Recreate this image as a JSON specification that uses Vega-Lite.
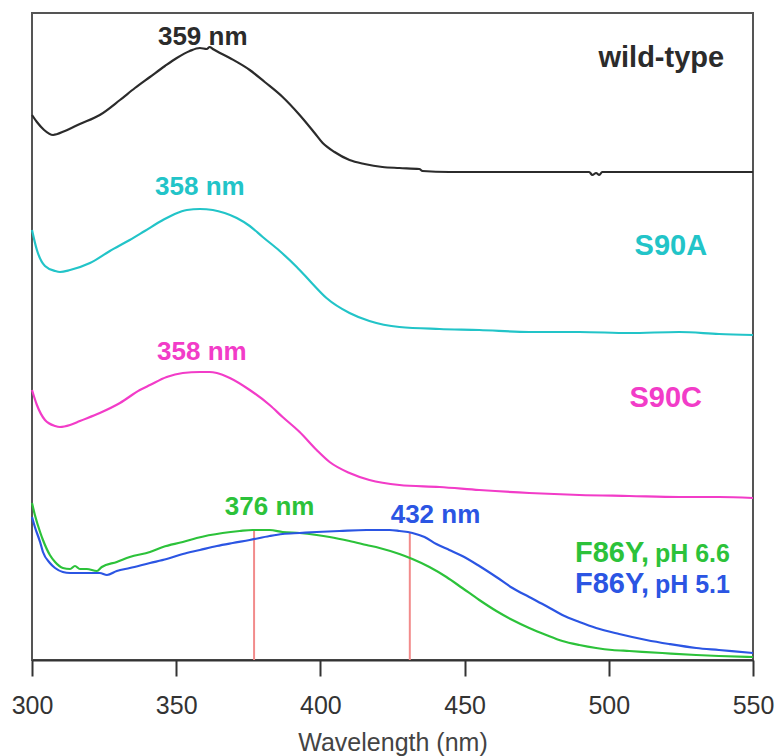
{
  "$schema": "https://vega.github.io/schema/vega-lite/v6.json",
  "width": 721,
  "height": 647,
  "autosize": {"type": "none"},
  "padding": {"left": 32, "top": 13, "right": 25, "bottom": 96},
  "background": "white",
  "config": {
    "view": {"stroke": "#555555", "strokeWidth": 2},
    "text": {"font": "Liberation Sans", "fontWeight": "bold"}
  },
  "datasets": {
    "spectra": [
      {"series": "wild-type", "wavelength": 300.0, "absorbance": 0.545},
      {"series": "wild-type", "wavelength": 301.7, "absorbance": 0.538},
      {"series": "wild-type", "wavelength": 304.2, "absorbance": 0.530},
      {"series": "wild-type", "wavelength": 307.3, "absorbance": 0.525},
      {"series": "wild-type", "wavelength": 311.4, "absorbance": 0.529},
      {"series": "wild-type", "wavelength": 316.6, "absorbance": 0.536},
      {"series": "wild-type", "wavelength": 323.5, "absorbance": 0.545},
      {"series": "wild-type", "wavelength": 330.5, "absorbance": 0.560},
      {"series": "wild-type", "wavelength": 335.7, "absorbance": 0.572},
      {"series": "wild-type", "wavelength": 340.9, "absorbance": 0.583},
      {"series": "wild-type", "wavelength": 346.1, "absorbance": 0.594},
      {"series": "wild-type", "wavelength": 350.2, "absorbance": 0.602},
      {"series": "wild-type", "wavelength": 354.7, "absorbance": 0.609},
      {"series": "wild-type", "wavelength": 358.2, "absorbance": 0.612},
      {"series": "wild-type", "wavelength": 360.6, "absorbance": 0.611},
      {"series": "wild-type", "wavelength": 361.6, "absorbance": 0.613},
      {"series": "wild-type", "wavelength": 362.7, "absorbance": 0.611},
      {"series": "wild-type", "wavelength": 368.6, "absorbance": 0.602},
      {"series": "wild-type", "wavelength": 375.5, "absorbance": 0.590},
      {"series": "wild-type", "wavelength": 380.7, "absorbance": 0.578},
      {"series": "wild-type", "wavelength": 386.9, "absorbance": 0.563},
      {"series": "wild-type", "wavelength": 392.8, "absorbance": 0.545},
      {"series": "wild-type", "wavelength": 398.0, "absorbance": 0.527},
      {"series": "wild-type", "wavelength": 400.8, "absorbance": 0.517},
      {"series": "wild-type", "wavelength": 404.9, "absorbance": 0.508},
      {"series": "wild-type", "wavelength": 410.1, "absorbance": 0.500},
      {"series": "wild-type", "wavelength": 415.3, "absorbance": 0.496},
      {"series": "wild-type", "wavelength": 421.5, "absorbance": 0.493},
      {"series": "wild-type", "wavelength": 427.4, "absorbance": 0.492},
      {"series": "wild-type", "wavelength": 434.3, "absorbance": 0.491},
      {"series": "wild-type", "wavelength": 435.4, "absorbance": 0.489},
      {"series": "wild-type", "wavelength": 444.7, "absorbance": 0.488},
      {"series": "wild-type", "wavelength": 462.0, "absorbance": 0.488},
      {"series": "wild-type", "wavelength": 493.2, "absorbance": 0.488},
      {"series": "wild-type", "wavelength": 494.3, "absorbance": 0.485},
      {"series": "wild-type", "wavelength": 495.6, "absorbance": 0.487},
      {"series": "wild-type", "wavelength": 496.7, "absorbance": 0.485},
      {"series": "wild-type", "wavelength": 497.7, "absorbance": 0.488},
      {"series": "wild-type", "wavelength": 514.0, "absorbance": 0.488},
      {"series": "wild-type", "wavelength": 531.3, "absorbance": 0.488},
      {"series": "wild-type", "wavelength": 550.0, "absorbance": 0.488},

      {"series": "S90A", "wavelength": 300.0, "absorbance": 0.430},
      {"series": "S90A", "wavelength": 301.7, "absorbance": 0.410},
      {"series": "S90A", "wavelength": 304.5, "absorbance": 0.394},
      {"series": "S90A", "wavelength": 308.0, "absorbance": 0.389},
      {"series": "S90A", "wavelength": 309.7, "absorbance": 0.388},
      {"series": "S90A", "wavelength": 313.2, "absorbance": 0.390},
      {"series": "S90A", "wavelength": 320.1, "absorbance": 0.397},
      {"series": "S90A", "wavelength": 327.0, "absorbance": 0.409},
      {"series": "S90A", "wavelength": 333.9, "absorbance": 0.420},
      {"series": "S90A", "wavelength": 339.1, "absorbance": 0.429},
      {"series": "S90A", "wavelength": 345.4, "absorbance": 0.440},
      {"series": "S90A", "wavelength": 349.5, "absorbance": 0.446},
      {"series": "S90A", "wavelength": 353.7, "absorbance": 0.450},
      {"series": "S90A", "wavelength": 358.2, "absorbance": 0.451},
      {"series": "S90A", "wavelength": 362.7, "absorbance": 0.450},
      {"series": "S90A", "wavelength": 366.8, "absorbance": 0.447},
      {"series": "S90A", "wavelength": 371.0, "absorbance": 0.442},
      {"series": "S90A", "wavelength": 375.5, "absorbance": 0.434},
      {"series": "S90A", "wavelength": 380.0, "absorbance": 0.423},
      {"series": "S90A", "wavelength": 385.9, "absorbance": 0.409},
      {"series": "S90A", "wavelength": 391.8, "absorbance": 0.393},
      {"series": "S90A", "wavelength": 397.0, "absorbance": 0.377},
      {"series": "S90A", "wavelength": 402.1, "absorbance": 0.362},
      {"series": "S90A", "wavelength": 410.1, "absorbance": 0.347},
      {"series": "S90A", "wavelength": 417.0, "absorbance": 0.339},
      {"series": "S90A", "wavelength": 427.4, "absorbance": 0.333},
      {"series": "S90A", "wavelength": 441.3, "absorbance": 0.331},
      {"series": "S90A", "wavelength": 455.1, "absorbance": 0.330},
      {"series": "S90A", "wavelength": 472.4, "absorbance": 0.328},
      {"series": "S90A", "wavelength": 489.8, "absorbance": 0.328},
      {"series": "S90A", "wavelength": 507.1, "absorbance": 0.327},
      {"series": "S90A", "wavelength": 524.4, "absorbance": 0.328},
      {"series": "S90A", "wavelength": 538.2, "absorbance": 0.326},
      {"series": "S90A", "wavelength": 550.0, "absorbance": 0.325},

      {"series": "S90C", "wavelength": 300.0, "absorbance": 0.270},
      {"series": "S90C", "wavelength": 301.7, "absorbance": 0.255},
      {"series": "S90C", "wavelength": 304.5, "absorbance": 0.240},
      {"series": "S90C", "wavelength": 308.0, "absorbance": 0.234},
      {"series": "S90C", "wavelength": 309.7, "absorbance": 0.233},
      {"series": "S90C", "wavelength": 313.2, "absorbance": 0.235},
      {"series": "S90C", "wavelength": 316.6, "absorbance": 0.239},
      {"series": "S90C", "wavelength": 323.5, "absorbance": 0.247},
      {"series": "S90C", "wavelength": 330.5, "absorbance": 0.257},
      {"series": "S90C", "wavelength": 337.4, "absorbance": 0.270},
      {"series": "S90C", "wavelength": 340.9, "absorbance": 0.275},
      {"series": "S90C", "wavelength": 346.7, "absorbance": 0.283},
      {"series": "S90C", "wavelength": 352.3, "absorbance": 0.287},
      {"series": "S90C", "wavelength": 358.2, "absorbance": 0.288},
      {"series": "S90C", "wavelength": 361.6, "absorbance": 0.288},
      {"series": "S90C", "wavelength": 364.1, "absorbance": 0.287},
      {"series": "S90C", "wavelength": 368.6, "absorbance": 0.282},
      {"series": "S90C", "wavelength": 375.5, "absorbance": 0.270},
      {"series": "S90C", "wavelength": 382.4, "absorbance": 0.255},
      {"series": "S90C", "wavelength": 386.9, "absorbance": 0.243},
      {"series": "S90C", "wavelength": 392.8, "absorbance": 0.228},
      {"series": "S90C", "wavelength": 398.7, "absorbance": 0.210},
      {"series": "S90C", "wavelength": 403.2, "absorbance": 0.198},
      {"series": "S90C", "wavelength": 410.1, "absorbance": 0.187},
      {"series": "S90C", "wavelength": 417.0, "absorbance": 0.180},
      {"series": "S90C", "wavelength": 427.4, "absorbance": 0.175},
      {"series": "S90C", "wavelength": 441.3, "absorbance": 0.173},
      {"series": "S90C", "wavelength": 455.1, "absorbance": 0.170},
      {"series": "S90C", "wavelength": 472.4, "absorbance": 0.167},
      {"series": "S90C", "wavelength": 489.8, "absorbance": 0.165},
      {"series": "S90C", "wavelength": 507.1, "absorbance": 0.164},
      {"series": "S90C", "wavelength": 524.4, "absorbance": 0.163},
      {"series": "S90C", "wavelength": 538.2, "absorbance": 0.163},
      {"series": "S90C", "wavelength": 550.0, "absorbance": 0.162},

      {"series": "F86Y pH 6.6", "wavelength": 300.0, "absorbance": 0.157},
      {"series": "F86Y pH 6.6", "wavelength": 301.0, "absorbance": 0.145},
      {"series": "F86Y pH 6.6", "wavelength": 302.8, "absorbance": 0.128},
      {"series": "F86Y pH 6.6", "wavelength": 303.8, "absorbance": 0.120},
      {"series": "F86Y pH 6.6", "wavelength": 306.2, "absorbance": 0.105},
      {"series": "F86Y pH 6.6", "wavelength": 308.0, "absorbance": 0.098},
      {"series": "F86Y pH 6.6", "wavelength": 310.7, "absorbance": 0.092},
      {"series": "F86Y pH 6.6", "wavelength": 313.2, "absorbance": 0.091},
      {"series": "F86Y pH 6.6", "wavelength": 314.9, "absorbance": 0.094},
      {"series": "F86Y pH 6.6", "wavelength": 316.6, "absorbance": 0.091},
      {"series": "F86Y pH 6.6", "wavelength": 319.0, "absorbance": 0.091},
      {"series": "F86Y pH 6.6", "wavelength": 322.5, "absorbance": 0.089},
      {"series": "F86Y pH 6.6", "wavelength": 324.2, "absorbance": 0.093},
      {"series": "F86Y pH 6.6", "wavelength": 329.4, "absorbance": 0.098},
      {"series": "F86Y pH 6.6", "wavelength": 333.9, "absorbance": 0.103},
      {"series": "F86Y pH 6.6", "wavelength": 340.9, "absorbance": 0.108},
      {"series": "F86Y pH 6.6", "wavelength": 345.4, "absorbance": 0.113},
      {"series": "F86Y pH 6.6", "wavelength": 352.3, "absorbance": 0.118},
      {"series": "F86Y pH 6.6", "wavelength": 357.1, "absorbance": 0.122},
      {"series": "F86Y pH 6.6", "wavelength": 366.1, "absorbance": 0.127},
      {"series": "F86Y pH 6.6", "wavelength": 372.0, "absorbance": 0.129},
      {"series": "F86Y pH 6.6", "wavelength": 376.5, "absorbance": 0.130},
      {"series": "F86Y pH 6.6", "wavelength": 382.4, "absorbance": 0.130},
      {"series": "F86Y pH 6.6", "wavelength": 386.9, "absorbance": 0.128},
      {"series": "F86Y pH 6.6", "wavelength": 392.8, "absorbance": 0.127},
      {"series": "F86Y pH 6.6", "wavelength": 398.7, "absorbance": 0.125},
      {"series": "F86Y pH 6.6", "wavelength": 403.2, "absorbance": 0.123},
      {"series": "F86Y pH 6.6", "wavelength": 410.1, "absorbance": 0.119},
      {"series": "F86Y pH 6.6", "wavelength": 416.0, "absorbance": 0.115},
      {"series": "F86Y pH 6.6", "wavelength": 420.5, "absorbance": 0.112},
      {"series": "F86Y pH 6.6", "wavelength": 427.4, "absorbance": 0.106},
      {"series": "F86Y pH 6.6", "wavelength": 431.9, "absorbance": 0.101},
      {"series": "F86Y pH 6.6", "wavelength": 437.8, "absorbance": 0.093},
      {"series": "F86Y pH 6.6", "wavelength": 443.7, "absorbance": 0.083},
      {"series": "F86Y pH 6.6", "wavelength": 449.2, "absorbance": 0.072},
      {"series": "F86Y pH 6.6", "wavelength": 455.1, "absorbance": 0.060},
      {"series": "F86Y pH 6.6", "wavelength": 461.0, "absorbance": 0.049},
      {"series": "F86Y pH 6.6", "wavelength": 466.6, "absorbance": 0.040},
      {"series": "F86Y pH 6.6", "wavelength": 472.4, "absorbance": 0.032},
      {"series": "F86Y pH 6.6", "wavelength": 478.3, "absorbance": 0.025},
      {"series": "F86Y pH 6.6", "wavelength": 483.9, "absorbance": 0.019},
      {"series": "F86Y pH 6.6", "wavelength": 489.8, "absorbance": 0.015},
      {"series": "F86Y pH 6.6", "wavelength": 495.6, "absorbance": 0.012},
      {"series": "F86Y pH 6.6", "wavelength": 501.2, "absorbance": 0.010},
      {"series": "F86Y pH 6.6", "wavelength": 507.1, "absorbance": 0.009},
      {"series": "F86Y pH 6.6", "wavelength": 518.5, "absorbance": 0.007},
      {"series": "F86Y pH 6.6", "wavelength": 530.3, "absorbance": 0.005},
      {"series": "F86Y pH 6.6", "wavelength": 538.2, "absorbance": 0.004},
      {"series": "F86Y pH 6.6", "wavelength": 550.0, "absorbance": 0.003},

      {"series": "F86Y pH 5.1", "wavelength": 300.0, "absorbance": 0.143},
      {"series": "F86Y pH 5.1", "wavelength": 301.0, "absorbance": 0.133},
      {"series": "F86Y pH 5.1", "wavelength": 302.8, "absorbance": 0.118},
      {"series": "F86Y pH 5.1", "wavelength": 303.8, "absorbance": 0.108},
      {"series": "F86Y pH 5.1", "wavelength": 306.2, "absorbance": 0.097},
      {"series": "F86Y pH 5.1", "wavelength": 308.0, "absorbance": 0.092},
      {"series": "F86Y pH 5.1", "wavelength": 310.7, "absorbance": 0.088},
      {"series": "F86Y pH 5.1", "wavelength": 313.2, "absorbance": 0.087},
      {"series": "F86Y pH 5.1", "wavelength": 316.6, "absorbance": 0.087},
      {"series": "F86Y pH 5.1", "wavelength": 320.1, "absorbance": 0.087},
      {"series": "F86Y pH 5.1", "wavelength": 323.5, "absorbance": 0.087},
      {"series": "F86Y pH 5.1", "wavelength": 326.0, "absorbance": 0.085},
      {"series": "F86Y pH 5.1", "wavelength": 329.4, "absorbance": 0.089},
      {"series": "F86Y pH 5.1", "wavelength": 333.9, "absorbance": 0.092},
      {"series": "F86Y pH 5.1", "wavelength": 340.9, "absorbance": 0.097},
      {"series": "F86Y pH 5.1", "wavelength": 346.7, "absorbance": 0.101},
      {"series": "F86Y pH 5.1", "wavelength": 352.3, "absorbance": 0.106},
      {"series": "F86Y pH 5.1", "wavelength": 358.2, "absorbance": 0.110},
      {"series": "F86Y pH 5.1", "wavelength": 364.1, "absorbance": 0.114},
      {"series": "F86Y pH 5.1", "wavelength": 369.6, "absorbance": 0.117},
      {"series": "F86Y pH 5.1", "wavelength": 375.5, "absorbance": 0.120},
      {"series": "F86Y pH 5.1", "wavelength": 382.4, "absorbance": 0.124},
      {"series": "F86Y pH 5.1", "wavelength": 386.9, "absorbance": 0.126},
      {"series": "F86Y pH 5.1", "wavelength": 392.8, "absorbance": 0.127},
      {"series": "F86Y pH 5.1", "wavelength": 398.7, "absorbance": 0.128},
      {"series": "F86Y pH 5.1", "wavelength": 406.6, "absorbance": 0.129},
      {"series": "F86Y pH 5.1", "wavelength": 416.0, "absorbance": 0.130},
      {"series": "F86Y pH 5.1", "wavelength": 424.0, "absorbance": 0.130},
      {"series": "F86Y pH 5.1", "wavelength": 427.4, "absorbance": 0.129},
      {"series": "F86Y pH 5.1", "wavelength": 431.9, "absorbance": 0.127},
      {"series": "F86Y pH 5.1", "wavelength": 436.1, "absorbance": 0.123},
      {"series": "F86Y pH 5.1", "wavelength": 440.2, "absorbance": 0.116},
      {"series": "F86Y pH 5.1", "wavelength": 444.7, "absorbance": 0.110},
      {"series": "F86Y pH 5.1", "wavelength": 449.2, "absorbance": 0.104},
      {"series": "F86Y pH 5.1", "wavelength": 455.1, "absorbance": 0.094},
      {"series": "F86Y pH 5.1", "wavelength": 461.0, "absorbance": 0.083},
      {"series": "F86Y pH 5.1", "wavelength": 466.6, "absorbance": 0.072},
      {"series": "F86Y pH 5.1", "wavelength": 472.4, "absorbance": 0.063},
      {"series": "F86Y pH 5.1", "wavelength": 478.3, "absorbance": 0.054},
      {"series": "F86Y pH 5.1", "wavelength": 483.9, "absorbance": 0.045},
      {"series": "F86Y pH 5.1", "wavelength": 489.8, "absorbance": 0.038},
      {"series": "F86Y pH 5.1", "wavelength": 495.6, "absorbance": 0.032},
      {"series": "F86Y pH 5.1", "wavelength": 503.6, "absorbance": 0.026},
      {"series": "F86Y pH 5.1", "wavelength": 513.0, "absorbance": 0.020},
      {"series": "F86Y pH 5.1", "wavelength": 520.9, "absorbance": 0.016},
      {"series": "F86Y pH 5.1", "wavelength": 530.3, "absorbance": 0.012},
      {"series": "F86Y pH 5.1", "wavelength": 538.2, "absorbance": 0.010},
      {"series": "F86Y pH 5.1", "wavelength": 550.0, "absorbance": 0.007}
    ],
    "markers": [
      {"series": "F86Y pH 6.6", "wavelength": 377, "absorbance": 0.130},
      {"series": "F86Y pH 5.1", "wavelength": 431, "absorbance": 0.127}
    ],
    "labels": [
      {"series": "wild-type", "kind": "peak", "wavelength": 359.2, "absorbance": 0.615, "text": "359 nm"},
      {"series": "S90A", "kind": "peak", "wavelength": 358.2, "absorbance": 0.465, "text": "358 nm"},
      {"series": "S90C", "kind": "peak", "wavelength": 358.9, "absorbance": 0.300, "text": "358 nm"},
      {"series": "F86Y pH 6.6", "kind": "peak", "wavelength": 382.4, "absorbance": 0.145, "text": "376 nm"},
      {"series": "F86Y pH 5.1", "kind": "peak", "wavelength": 439.9, "absorbance": 0.137, "text": "432 nm"},
      {"series": "wild-type", "kind": "name", "wavelength": 540.0, "absorbance": 0.593, "text": "wild-type"},
      {"series": "S90A", "kind": "name", "wavelength": 534.1, "absorbance": 0.405, "text": "S90A"},
      {"series": "S90C", "kind": "name", "wavelength": 532.3, "absorbance": 0.253, "text": "S90C"},
      {"series": "F86Y pH 6.6", "kind": "name", "wavelength": 514.0, "absorbance": 0.098, "text": "F86Y,"},
      {"series": "F86Y pH 5.1", "kind": "name", "wavelength": 514.0, "absorbance": 0.067, "text": "F86Y,"},
      {"series": "F86Y pH 6.6", "kind": "ph", "wavelength": 516.0, "absorbance": 0.098, "text": "pH 6.6"},
      {"series": "F86Y pH 5.1", "kind": "ph", "wavelength": 516.0, "absorbance": 0.067, "text": "pH 5.1"}
    ]
  },
  "encoding": {
    "x": {
      "field": "wavelength",
      "type": "quantitative",
      "scale": {"domain": [300, 550], "nice": false, "zero": false},
      "axis": {
        "values": [300, 350, 400, 450, 500, 550],
        "grid": false,
        "domainColor": "#333333",
        "domainWidth": 2,
        "tickColor": "#333333",
        "tickWidth": 2,
        "tickSize": 16,
        "labelFont": "Liberation Sans",
        "labelFontSize": 25,
        "labelColor": "#333333",
        "labelPadding": 17,
        "labelFlush": false,
        "title": "Wavelength (nm)",
        "titleFont": "Liberation Sans",
        "titleFontSize": 25,
        "titleFontWeight": "normal",
        "titleColor": "#444444",
        "titleBaseline": "alphabetic",
        "titleY": 90
      }
    },
    "y": {
      "field": "absorbance",
      "type": "quantitative",
      "scale": {"domain": [0, 0.647], "nice": false, "zero": false},
      "axis": null
    },
    "color": {
      "field": "series",
      "type": "nominal",
      "scale": {
        "domain": ["wild-type", "S90A", "S90C", "F86Y pH 6.6", "F86Y pH 5.1"],
        "range": ["#2b2b2b", "#22c4c8", "#f23cc8", "#2cc23a", "#2b55e3"]
      },
      "legend": null
    }
  },
  "layer": [
    {
      "data": {"name": "markers"},
      "mark": {"type": "rule", "color": "#f28b8b", "strokeWidth": 2},
      "encoding": {
        "color": {"value": "#f28b8b"},
        "y2": {"datum": 0}
      }
    },
    {
      "data": {"name": "spectra"},
      "mark": {"type": "line", "strokeWidth": 2.2, "interpolate": "monotone"}
    },
    {
      "data": {"name": "labels"},
      "transform": [{"filter": "datum.kind === 'peak'"}],
      "mark": {"type": "text", "fontSize": 26, "align": "center", "baseline": "alphabetic"},
      "encoding": {"text": {"field": "text"}}
    },
    {
      "data": {"name": "labels"},
      "transform": [{"filter": "datum.kind === 'name'"}],
      "mark": {"type": "text", "fontSize": 29, "align": "right", "baseline": "alphabetic"},
      "encoding": {"text": {"field": "text"}}
    },
    {
      "data": {"name": "labels"},
      "transform": [{"filter": "datum.kind === 'ph'"}],
      "mark": {"type": "text", "fontSize": 25, "align": "left", "baseline": "alphabetic"},
      "encoding": {"text": {"field": "text"}}
    }
  ]
}
